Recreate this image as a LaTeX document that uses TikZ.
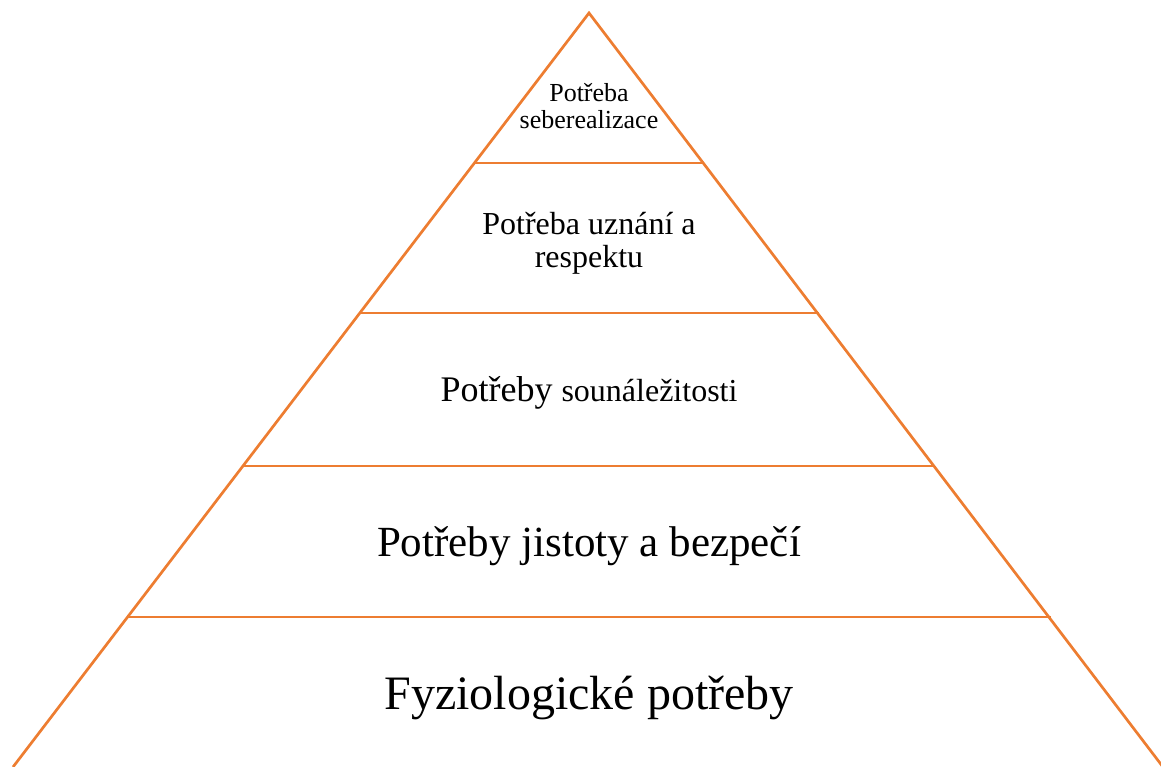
\documentclass[tikz,border=0pt]{standalone}
\usepackage{fontspec}
\setmainfont{Liberation Serif}
\definecolor{pyr}{HTML}{ED7D31}
\begin{document}
\begin{tikzpicture}[x=1pt,y=-1pt,
  edge/.style={draw=pyr,line width=2.7pt},
  lbl/.style={anchor=base,inner sep=0pt,text=black}]
\useasboundingbox (0,0) rectangle (1161,767);
\coordinate (apex) at (589,13);
\coordinate (bl) at (13,767);
\coordinate (br) at (1163,767);
\draw[edge] (bl) -- (apex) -- (br);
\coordinate (l1) at (474.6,163); \coordinate (r1) at (704,163);
\coordinate (l2) at (359.6,313); \coordinate (r2) at (819,313);
\coordinate (l3) at (243.6,466); \coordinate (r3) at (935,466);
\coordinate (l4) at (128,617); \coordinate (r4) at (1050.5,617);
\draw[edge] (l1) -- (r1);
\draw[edge] (l2) -- (r2);
\draw[edge] (l3) -- (r3);
\draw[edge] (l4) -- (r4);
\node[lbl] (t1a) at (589,102) {\fontsize{26}{30}\selectfont Potřeba};
\node[lbl] (t1b) at (589,129) {\fontsize{26}{30}\selectfont seberealizace};
\node[lbl] (t2a) at (589,235) {\fontsize{32}{36}\selectfont Potřeba uznání a};
\node[lbl] (t2b) at (589,268) {\fontsize{32}{36}\selectfont respektu};
\node[lbl] (t3) at (589,401) {\fontsize{36}{40}\selectfont Potřeby \fontsize{32}{36}\selectfont sounáležitosti};
\node[lbl] (t4) at (589,556) {\fontsize{43}{48}\selectfont Potřeby jistoty a bezpečí};
\node[lbl] (t5) at (589,709) {\fontsize{48}{54}\selectfont Fyziologické potřeby};
\end{tikzpicture}
\end{document}
